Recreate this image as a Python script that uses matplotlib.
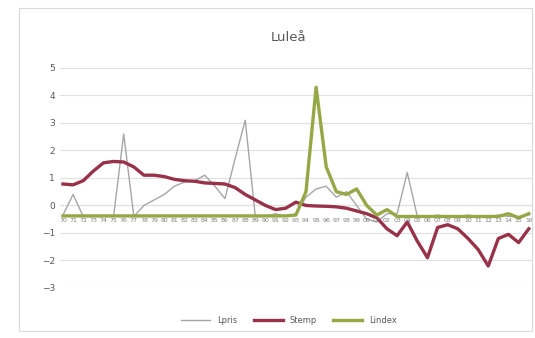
import matplotlib
matplotlib.use('Agg')
import matplotlib.pyplot as plt
from matplotlib.patches import Rectangle

# category labels (years, two digits)
years = ['%02d' % (y % 100) for y in range(1970, 2017)]

lpris = [-0.35, 0.4, -0.4, -0.4, -0.4, -0.4, 2.6, -0.4, 0.0, 0.2, 0.4, 0.7, 0.85, 0.9,
         1.1, 0.7, 0.25, 1.7, 3.1, -0.4, -0.4, -0.3, -0.4, -0.3, 0.3, 0.6, 0.7, 0.3,
         0.5, 0.0, -0.5, -0.6, -0.3, -0.3, 1.2, -0.4, -0.4, -0.35, -0.4, -0.4, -0.35,
         -0.4, -0.4, -0.35, -0.4, -0.4, -0.35]
stemp = [0.78, 0.75, 0.9, 1.25, 1.55, 1.6, 1.58, 1.4, 1.1, 1.1, 1.05, 0.95, 0.9, 0.88,
         0.82, 0.8, 0.78, 0.65, 0.4, 0.2, 0.0, -0.15, -0.1, 0.12, 0.0, -0.02, -0.03,
         -0.05, -0.1, -0.2, -0.3, -0.45, -0.85, -1.1, -0.6, -1.3, -1.9, -0.8, -0.7,
         -0.85, -1.2, -1.6, -2.2, -1.2, -1.05, -1.35, -0.85]
lindex = [-0.38] * 23 + [-0.35, 0.5, 4.3, 1.4, 0.5, 0.4, 0.6, 0.0, -0.35, -0.15, -0.4,
                         -0.4, -0.4, -0.4, -0.4, -0.4, -0.4, -0.4, -0.4, -0.4, -0.4,
                         -0.3, -0.45, -0.3]

x = list(range(len(years)))

fig = plt.figure(figsize=(5.35, 3.38), dpi=100)
fig.patches.append(Rectangle((0.035, 0.02), 0.96, 0.955, transform=fig.transFigure,
                             fill=False, edgecolor='#d9d9d9', lw=0.8))
ax = fig.add_axes([0.112, 0.148, 0.882, 0.651])

ax.plot(x, lpris, color='#a6a6a6', lw=1.0, label='Lpris')
ax.plot(x, stemp, color='#983248', lw=2.4, label='Stemp')
ax.plot(x, lindex, color='#95a846', lw=2.4, label='Lindex')

ax.set_ylim(-3, 5)
ax.set_xlim(-0.3, len(years) - 0.7)
ax.set_yticks(range(-3, 6))
ax.grid(axis='y', color='#e0e0e0', lw=0.8)
ax.set_axisbelow(True)
for s in ax.spines.values():
    s.set_visible(False)
ax.axhline(0, color='#d0d0d0', lw=0.8, zorder=0)

ax.set_xticks(x)
ax.set_xticklabels([])
for i, lab in enumerate(years):
    ax.text(i, -0.55, lab, ha='center', va='center', fontsize=4.5, color='#7f7f7f')
ax.tick_params(axis='both', length=0, labelsize=6.5, labelcolor='#595959')

fig.text(0.54, 0.89, 'Luleå', ha='center', va='center', fontsize=9.5, color='#595959')
fig.legend(loc='center', bbox_to_anchor=(0.54, 0.053), ncol=3, frameon=False,
           fontsize=6, labelcolor='#595959', handlelength=3.5, columnspacing=2)

fig.savefig('out.png', dpi=100)
